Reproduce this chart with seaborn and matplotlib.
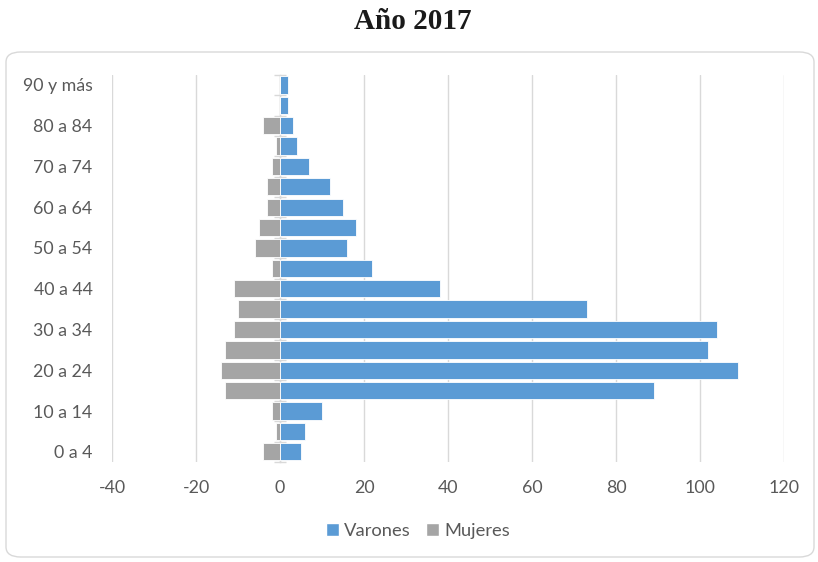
import pandas as pd
import matplotlib.pyplot as plt
import seaborn as sns
from matplotlib.patches import FancyBboxPatch, Patch

# grupos de edad (de arriba hacia abajo)
edades = ['90 y más', '85 a 89', '80 a 84', '75 a 79', '70 a 74', '65 a 69',
          '60 a 64', '55 a 59', '50 a 54', '45 a 49', '40 a 44', '35 a 39',
          '30 a 34', '25 a 29', '20 a 24', '15 a 19', '10 a 14', '5 a 9', '0 a 4']
varones = [2, 2, 3, 4, 7, 12, 15, 18, 16, 22, 38, 73, 104, 102, 109, 89, 10, 6, 5]
mujeres = [0, 0, 4, 1, 2, 3, 3, 5, 6, 2, 11, 10, 11, 13, 14, 13, 2, 1, 4]
xticks = [-40, -20, 0, 20, 40, 60, 80, 100, 120]

azul = '#5B9BD5'
gris = '#A5A5A5'
texto = '#595959'

df = pd.DataFrame({
    'edad': edades * 2,
    'valor': varones + [-m for m in mujeres],
    'sexo': ['Varones'] * len(edades) + ['Mujeres'] * len(edades),
})

sns.set_style('white')
plt.rcParams['font.family'] = ['Lato', 'DejaVu Sans']

fig = plt.figure(figsize=(8.18, 5.62), dpi=100)
ax = fig.add_axes([0.137, 0.178, 0.8215, 0.689])

# marco redondeado del área del gráfico
marco = FancyBboxPatch((6 / 818, 5 / 562), 808 / 818, 505 / 562,
                       boxstyle='round,pad=0,rounding_size=0.018',
                       transform=fig.transFigure, facecolor='white',
                       edgecolor='#D9D9D9', linewidth=1.0, zorder=-10)
fig.patches.append(marco)

sns.barplot(data=df, y='edad', x='valor', hue='sexo', order=edades,
            hue_order=['Varones', 'Mujeres'], palette=[azul, gris],
            saturation=1, dodge=False, width=0.85, orient='h', edgecolor='white',
            linewidth=0.6, legend=False, ax=ax, zorder=3)

ax.set_xlim(-40, 120)
ax.set_ylim(len(edades) - 0.5, -0.5)
ax.set_xticks(xticks)
ax.set_xticklabels([str(t) for t in xticks])
ax.set_yticks(range(len(edades)))
ax.set_yticklabels([e if i % 2 == 0 else '' for i, e in enumerate(edades)])
ax.xaxis.grid(True, color='#D9D9D9', linewidth=1.0, zorder=0)
ax.yaxis.grid(False)
ax.tick_params(axis='x', length=0, pad=13, labelsize=12.8, labelcolor=texto)
ax.tick_params(axis='y', length=0, pad=14, labelsize=12.8, labelcolor=texto)
ax.set_xlabel('')
ax.set_ylabel('')
for s in ax.spines.values():
    s.set_visible(False)

# eje vertical en cero con marcas
eje = ax.secondary_yaxis(0.25)
eje.set_yticks([i - 0.5 for i in range(len(edades) + 1)])
eje.set_yticklabels([])
eje.tick_params(axis='y', direction='inout', length=8, width=1.0, color='#D9D9D9')
eje.spines['left'].set_color('#D9D9D9')
eje.spines['left'].set_linewidth(1.0)
for k in ['right', 'top', 'bottom']:
    eje.spines[k].set_visible(False)

fig.text(0.505, 0.962, 'Año 2017', ha='center', va='center',
         fontsize=21, fontweight='bold', family='Liberation Serif', color='#1a1a1a')

handles = [Patch(facecolor=azul, label='Varones'), Patch(facecolor=gris, label='Mujeres')]
fig.legend(handles=handles, loc='center', bbox_to_anchor=(0.511, 0.055), ncol=2,
           frameon=False, fontsize=13.2, labelcolor=texto, handlelength=0.7,
           handleheight=0.7, handletextpad=0.3, columnspacing=0.8)

fig.savefig('out.png', dpi=100)
